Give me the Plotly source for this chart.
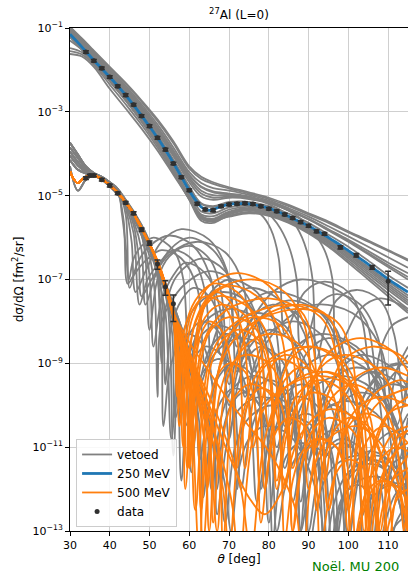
import plotly.graph_objects as go

# ---------------- measured data (log10 of dσ/dΩ) ----------------
data_250_theta = [34, 36, 38, 40, 42, 44, 46, 48, 50, 52, 54, 56, 58, 60, 62, 64, 66, 68, 70, 72,
                  74, 76, 78, 80, 82, 84, 86, 88, 90, 92, 94, 98, 102, 106, 110]
data_250_log = [-1.57, -1.78, -1.96, -2.17, -2.39, -2.60, -2.83, -3.10, -3.34, -3.62, -3.90, -4.23,
                -4.56, -4.87, -5.19, -5.33, -5.35, -5.25, -5.21, -5.19, -5.18, -5.20, -5.25, -5.31,
                -5.37, -5.45, -5.53, -5.63, -5.72, -5.85, -5.91, -6.23, -6.42, -6.71, -7.04]
data_250_relerr = [0.07, 0.07, 0.07, 0.07, 0.07, 0.07, 0.07, 0.07, 0.07, 0.07, 0.07, 0.07, 0.07,
                   0.07, 0.07, 0.07, 0.07, 0.07, 0.07, 0.07, 0.07, 0.07, 0.07, 0.07, 0.07, 0.07,
                   0.07, 0.07, 0.07, 0.08, 0.08, 0.09, 0.09, 0.1, 0.73]

data_500_theta = [34, 35, 36, 38, 40, 42, 44, 46, 48, 50, 52, 54, 56]
data_500_log = [-4.58, -4.52, -4.52, -4.62, -4.76, -4.94, -5.17, -5.42, -5.81, -6.13, -6.63, -7.17, -7.58]
data_500_relerr = [0.07, 0.07, 0.07, 0.07, 0.07, 0.07, 0.07, 0.08, 0.1, 0.12, 0.25, 0.38, 0.62]

# ---------------- accepted 250 MeV model ----------------
model_250_theta = [30, 32, 34, 36, 38, 40, 42, 44, 46, 48, 50, 52, 54, 56, 58, 60, 62, 63, 64, 65, 66,
                   68, 70, 72, 74, 76, 78, 80, 82, 84, 86, 88, 90, 92, 94, 96, 98, 100, 102, 104, 106,
                   108, 110, 112, 115]
model_250_log = [-1.15, -1.35, -1.56, -1.77, -1.97, -2.17, -2.38, -2.60, -2.84, -3.09, -3.35, -3.62,
                 -3.91, -4.22, -4.55, -4.88, -5.16, -5.27, -5.33, -5.35, -5.33, -5.26, -5.21, -5.19,
                 -5.19, -5.21, -5.25, -5.30, -5.37, -5.45, -5.54, -5.63, -5.72, -5.83, -5.94, -6.06,
                 -6.18, -6.31, -6.44, -6.57, -6.71, -6.85, -6.99, -7.12, -7.30]

# ---------------- vetoed 250 MeV curves ----------------
vetoed_250_grid = [30, 33, 36, 40, 44, 48, 52, 56, 60, 63, 66, 70, 75, 80, 85, 90, 95, 100, 105, 110, 115]
vetoed_250_band = [
    [-0.97, -1.25, -1.54, -1.93, -2.31, -2.73, -3.18, -3.70, -4.30, -4.55, -4.68, -4.80, -4.92, -5.05, -5.22, -5.42, -5.62, -5.85, -6.07, -6.30, -6.52],
    [-1.00, -1.28, -1.57, -1.95, -2.33, -2.76, -3.22, -3.75, -4.35, -4.60, -4.72, -4.83, -4.95, -5.08, -5.25, -5.45, -5.65, -5.88, -6.10, -6.32, -6.55],
    [-1.02, -1.31, -1.60, -1.99, -2.38, -2.82, -3.30, -3.85, -4.44, -4.70, -4.82, -4.88, -4.98, -5.12, -5.30, -5.50, -5.73, -5.97, -6.22, -6.47, -6.72],
    [-1.03, -1.33, -1.63, -2.02, -2.42, -2.87, -3.36, -3.92, -4.50, -4.78, -4.90, -4.95, -5.02, -5.15, -5.33, -5.55, -5.80, -6.05, -6.32, -6.60, -6.85],
    [-1.05, -1.36, -1.66, -2.05, -2.46, -2.92, -3.42, -3.98, -4.57, -4.88, -4.99, -4.99, -5.04, -5.16, -5.35, -5.56, -5.82, -6.08, -6.37, -6.66, -6.94],
    [-1.06, -1.38, -1.68, -2.07, -2.48, -2.95, -3.45, -4.02, -4.62, -4.95, -5.05, -5.02, -5.05, -5.16, -5.35, -5.57, -5.83, -6.10, -6.40, -6.70, -7.00],
    [-1.10, -1.42, -1.73, -2.12, -2.55, -3.03, -3.55, -4.14, -4.78, -5.18, -5.25, -5.15, -5.15, -5.25, -5.43, -5.65, -5.93, -6.22, -6.55, -6.90, -7.20],
    [-1.13, -1.44, -1.76, -2.16, -2.60, -3.10, -3.64, -4.25, -4.92, -5.38, -5.42, -5.28, -5.24, -5.33, -5.52, -5.75, -6.04, -6.36, -6.70, -7.05, -7.38],
    [-1.17, -1.47, -1.79, -2.20, -2.65, -3.15, -3.70, -4.32, -4.99, -5.45, -5.49, -5.33, -5.27, -5.35, -5.54, -5.78, -6.07, -6.39, -6.74, -7.10, -7.44],
    [-1.20, -1.50, -1.82, -2.24, -2.70, -3.20, -3.75, -4.38, -5.05, -5.50, -5.55, -5.38, -5.30, -5.38, -5.56, -5.80, -6.10, -6.42, -6.78, -7.15, -7.50],
    [-1.30, -1.52, -1.83, -2.26, -2.72, -3.22, -3.77, -4.40, -5.07, -5.55, -5.60, -5.42, -5.33, -5.40, -5.58, -5.83, -6.13, -6.46, -6.83, -7.20, -7.55],
    [-1.48, -1.58, -1.84, -2.27, -2.73, -3.23, -3.78, -4.42, -5.10, -5.60, -5.65, -5.45, -5.35, -5.42, -5.60, -5.85, -6.15, -6.50, -6.88, -7.25, -7.60],
    [-1.55, -1.63, -1.88, -2.35, -2.82, -3.31, -3.85, -4.46, -5.09, -5.54, -5.62, -5.48, -5.39, -5.45, -5.63, -5.88, -6.19, -6.55, -6.94, -7.33, -7.70],
    [-1.62, -1.68, -1.93, -2.45, -2.92, -3.40, -3.92, -4.50, -5.08, -5.48, -5.58, -5.50, -5.42, -5.48, -5.65, -5.90, -6.22, -6.60, -7.00, -7.40, -7.80],
]
vetoed_250_extra_theta = [
    [30, 33, 36, 40, 44, 48, 52, 56, 60, 63, 66, 70, 75, 80, 84, 87, 89.5, 91, 92, 94, 97, 102, 108, 111.5, 114, 115],
    [30, 33, 36, 40, 44, 48, 52, 56, 60, 63, 66, 70, 75, 79, 82, 85, 87, 88, 90, 92.5, 97, 103, 107.5, 110, 112, 115],
    [30, 33, 36, 40, 44, 48, 52, 56, 60, 63, 66, 70, 75, 80, 85, 88, 91, 94, 96, 97, 99.5, 103, 108, 113, 115],
    [30, 33, 36, 40, 44, 48, 52, 56, 60, 63, 66, 70, 75, 78, 80.5, 82.5, 84, 86, 89, 94, 100, 103.5, 106, 108, 111, 115],
]
vetoed_250_extra_log = [
    [-1.08, -1.40, -1.70, -2.09, -2.51, -2.98, -3.49, -4.06, -4.68, -5.02, -5.10, -5.05, -5.08, -5.20, -5.42, -5.75, -6.3, -7.0, -8.9, -8.2, -7.5, -7.25, -7.5, -8.3, -10.0, -9.2],
    [-1.11, -1.43, -1.74, -2.14, -2.57, -3.05, -3.57, -4.16, -4.80, -5.20, -5.27, -5.17, -5.16, -5.35, -5.65, -6.2, -7.0, -8.6, -8.3, -7.6, -7.35, -7.6, -8.4, -10.2, -9.2, -8.6],
    [-1.03, -1.34, -1.64, -2.03, -2.44, -2.89, -3.38, -3.94, -4.52, -4.80, -4.92, -4.97, -5.04, -5.17, -5.36, -5.55, -5.85, -6.3, -7.0, -8.8, -8.3, -7.7, -7.45, -7.6, -7.75],
    [-1.22, -1.52, -1.84, -2.27, -2.73, -3.23, -3.78, -4.40, -5.07, -5.52, -5.57, -5.40, -5.32, -5.45, -5.8, -6.5, -8.3, -7.9, -7.3, -7.05, -7.3, -8.0, -9.8, -8.7, -8.1, -7.9],
]

# ---------------- vetoed 500 MeV curves ----------------
vetoed_500_head_theta = [30, 32, 34, 36, 38, 40, 42]
vetoed_500_heads = [
    [-3.74, -4.02, -4.30, -4.46, -4.55, -4.68, -4.84],
    [-3.85, -4.10, -4.35, -4.48, -4.57, -4.70, -4.86],
    [-3.95, -4.20, -4.40, -4.50, -4.58, -4.72, -4.90],
    [-4.05, -4.28, -4.43, -4.50, -4.60, -4.75, -4.93],
    [-4.15, -4.38, -4.47, -4.52, -4.62, -4.78, -4.97],
    [-4.30, -4.88, -4.62, -4.53, -4.60, -4.74, -4.92],
]
vetoed_500_head_index = [0, 1, 2, 3, 4, 5, 1, 2, 3, 4, 0, 2, 1, 3, 0, 5, 0, 2, 3, 1, 4, 0, 5, 3, 2, 4, 1]
vetoed_500_tail_theta = [
    [44, 45.5, 46.5, 49, 53, 58, 65, 69.5, 72, 75.5, 81, 88, 98, 104.5, 108, 111, 115],
    [44, 45, 47, 50, 55, 61, 65.5, 68, 71, 75, 80, 89, 97, 102, 105, 110, 115],
    [44, 46, 47.3, 48, 50.5, 55, 62, 69, 73.5, 76, 79.5, 85, 92, 101, 108, 112, 115],
    [43.5, 44.5, 46, 49, 53, 58, 62, 64, 67, 70.5, 75, 83, 89, 92, 95, 98.5, 103, 111, 115],
    [44, 46, 48, 50, 51.3, 52, 52.8, 55, 59, 65, 72, 77, 80, 83, 87, 93, 102, 108, 112, 115],
    [44, 46, 48, 50, 52, 54, 55.5, 58, 62, 68, 74, 79, 82, 85, 89, 95, 104, 110, 113, 115],
    [44, 46, 48, 50, 52, 54, 56, 57.5, 60, 64, 70, 77, 81.5, 84, 87, 91, 98, 106, 112, 115],
    [44, 48, 52, 56, 57, 58, 60, 62.5, 67, 72, 75.5, 78, 80.5, 83.5, 88, 94, 97.5, 100, 103, 107, 112, 115],
    [44, 46, 48, 50, 52, 54, 56, 58, 59.5, 60.5, 63, 67, 73, 80, 83.5, 86, 89, 93, 99, 107, 112, 115],
    [44, 48, 52, 56, 59, 61.5, 62.6, 65, 67.5, 71, 75, 78, 80, 82, 85, 89, 93, 96, 98, 100, 103, 107, 112, 115],
    [44, 48, 52, 56, 60, 63, 64.7, 65.5, 68, 71, 76, 82, 86, 88, 90.5, 94, 98, 104, 108, 110, 112, 115],
    [44, 48, 52, 56, 60, 63.5, 66, 67, 69.5, 72.5, 78, 84, 88, 90, 92.5, 96, 102, 109, 113, 115],
    [44, 46, 48, 49, 50, 52, 55, 60, 65, 68, 70, 72.5, 76, 81, 88, 92.5, 95, 97.5, 101, 106, 113, 115],
    [44, 48, 50, 52, 53, 54, 57, 63, 69, 72, 74, 76.5, 80, 86, 93, 97.5, 100, 102.5, 106, 111, 115],
    [43, 44, 44.8, 46, 48, 51, 56, 58.5, 60, 62.5, 65.5, 70, 77, 81.5, 84, 86.5, 90, 95, 102, 107, 110, 112.5, 115],
    [44, 48, 52, 54, 55.7, 56.5, 58.5, 61, 64, 68, 71, 73, 75, 77.5, 81, 85, 88, 90, 92, 94.5, 98, 102, 105, 107, 109, 112, 115],
    [44, 48, 52, 55, 57.5, 59, 61, 63.5, 67, 72, 75, 77, 79, 81.5, 86, 91, 94, 96, 98, 100.5, 105, 110, 113, 115],
    [44, 46, 47.5, 49.5, 52.5, 56, 61, 64, 66, 68.5, 71.5, 77, 84, 88, 90, 92.5, 96, 102, 109, 113, 115],
    [44, 46, 48, 49, 51.5, 55, 60, 66, 70, 72, 75, 79, 85, 93, 97.5, 100, 103, 107, 112, 115],
    [44, 48, 52, 53.3, 54, 55.5, 58, 61, 65, 68, 70, 72, 74.5, 78, 83, 86, 88, 90, 92.5, 96, 101, 104, 106, 108, 111, 115],
    [44, 48, 52, 56, 60, 62.5, 63.5, 65.5, 68, 71, 76, 80, 82, 84, 86.5, 90, 95, 98, 100, 102.5, 106, 111, 115],
    [44, 48, 52, 56, 60, 64, 67, 69, 71.5, 75, 81, 88, 92, 94, 96.5, 100, 106, 112, 115],
    [44, 46, 48, 50, 51, 53, 56, 59, 64, 67.5, 70, 72.5, 76, 80, 86, 90.5, 93, 95.5, 99, 103, 109, 113, 115],
    [44, 48, 52, 56, 59, 60.3, 61, 63, 65.5, 69, 74, 77, 79, 81, 83.5, 87, 92, 95, 97, 99, 101.5, 105, 110, 113, 115],
    [44, 48, 51, 52.8, 53.5, 55, 57, 59.5, 63, 65.5, 67, 68.5, 70.5, 73.5, 77, 79.5, 81, 82.5, 84.5, 88, 91.5, 93.5, 95, 96.5, 98.5, 102, 105.5, 107.5, 109, 111, 115],
    [44, 48, 52, 54.5, 56, 57.5, 60, 63, 67, 70, 72, 73.5, 76, 80, 84, 86.5, 88, 89.5, 92, 96, 100, 102.5, 104, 106, 109, 115],
    [44, 48, 52, 56, 60, 64, 67, 69, 70.5, 72.5, 75, 79, 85, 90, 93, 95, 97.5, 101, 107, 113, 115],
]
vetoed_500_tail_log = [
    [-5.3, -6.1, -7.3, -6.8, -6.1, -5.8, -6.05, -6.8, -8.6, -8.0, -7.3, -7.0, -7.3, -8.0, -9.6, -9.3, -8.8],
    [-5.45, -7.2, -6.6, -6.2, -5.95, -6.2, -7.0, -8.8, -8.3, -7.6, -7.3, -7.5, -8.2, -10.0, -9.6, -9.1, -9.0],
    [-5.2, -5.7, -6.5, -7.4, -7.0, -6.4, -6.1, -6.35, -7.1, -9.2, -8.5, -7.9, -7.6, -7.8, -8.6, -10.5, -9.3],
    [-5.6, -7.1, -6.9, -6.55, -6.3, -6.5, -7.2, -9.0, -8.2, -7.5, -7.2, -7.5, -8.3, -10.2, -9.7, -9.1, -8.8, -9.1, -9.6],
    [-5.2, -5.55, -5.95, -6.45, -7.3, -9.8, -8.1, -7.6, -7.1, -6.8, -7.1, -7.9, -10.5, -9.3, -8.6, -8.3, -8.6, -9.4, -11.5, -10.3],
    [-5.2, -5.5, -5.85, -6.3, -6.9, -7.8, -10.8, -8.4, -7.6, -7.3, -7.5, -8.4, -11.0, -9.8, -9.1, -8.8, -9.1, -9.9, -12.0, -11.0],
    [-5.15, -5.45, -5.8, -6.2, -6.65, -7.2, -8.1, -10.1, -8.8, -8.0, -7.7, -7.95, -8.8, -11.5, -10.3, -9.6, -9.3, -9.6, -10.5, -12.5],
    [-5.15, -5.8, -6.7, -8.0, -8.8, -11.8, -9.2, -8.4, -8.1, -8.3, -9.1, -12.0, -10.5, -9.8, -9.5, -9.8, -10.6, -13.2, -11.6, -10.9, -10.6, -10.7],
    [-5.2, -5.5, -5.9, -6.3, -6.8, -7.35, -7.95, -8.7, -9.6, -11.6, -9.5, -8.7, -8.4, -8.7, -9.5, -12.3, -10.9, -10.2, -9.9, -10.2, -11.0, -13.0],
    [-5.25, -5.85, -6.7, -7.7, -8.6, -9.6, -11.3, -10.0, -9.3, -9.0, -9.2, -10.0, -12.8, -11.2, -10.5, -10.2, -10.4, -11.2, -13.5, -12.3, -11.5, -11.2, -11.5, -12.5],
    [-5.1, -5.75, -6.75, -7.9, -9.0, -9.9, -10.8, -12.0, -10.3, -9.6, -9.3, -9.55, -10.4, -13.0, -11.8, -11.1, -10.8, -11.1, -11.9, -13.5, -12.8, -12.3],
    [-5.15, -5.75, -6.6, -7.6, -8.7, -9.8, -11.0, -12.6, -10.9, -10.1, -9.8, -10.05, -11.0, -13.5, -12.2, -11.5, -11.2, -11.5, -12.4, -14.0],
    [-5.15, -5.45, -5.9, -6.5, -8.2, -7.0, -6.45, -6.2, -6.5, -7.3, -9.5, -8.6, -7.9, -7.6, -7.9, -8.7, -11.0, -10.2, -9.5, -9.2, -9.5, -9.8],
    [-5.1, -5.7, -6.1, -6.9, -9.0, -7.7, -6.9, -6.5, -6.8, -7.6, -9.8, -9.0, -8.3, -8.0, -8.3, -9.1, -11.5, -10.4, -9.7, -9.5, -9.6],
    [-5.4, -6.2, -7.0, -6.5, -6.2, -6.0, -6.3, -7.0, -9.0, -8.0, -7.3, -7.0, -7.3, -8.1, -10.5, -9.4, -8.7, -8.4, -8.7, -9.5, -11.8, -10.7, -10.2],
    [-5.2, -5.85, -6.75, -7.3, -8.3, -10.3, -9.5, -8.9, -8.6, -8.8, -9.6, -12.0, -10.8, -10.1, -9.8, -10.0, -10.8, -13.0, -11.9, -11.2, -10.9, -11.1, -11.9, -14.0, -12.9, -12.1, -11.9],
    [-5.15, -5.8, -6.7, -7.55, -8.6, -10.5, -9.9, -9.2, -8.9, -9.1, -9.9, -12.3, -11.3, -10.6, -10.3, -10.5, -11.3, -13.5, -12.4, -11.7, -11.4, -11.6, -12.4, -14.0],
    [-5.25, -5.9, -7.6, -7.0, -6.6, -6.3, -6.55, -7.3, -9.5, -8.8, -8.1, -7.8, -8.1, -8.9, -11.3, -10.1, -9.4, -9.1, -9.4, -10.2, -12.5],
    [-5.2, -5.6, -6.3, -7.6, -6.9, -6.3, -6.0, -6.3, -7.0, -9.2, -8.4, -7.8, -7.5, -7.8, -8.6, -11.0, -10.0, -9.3, -9.0, -9.1],
    [-5.15, -5.75, -6.75, -7.6, -9.5, -8.1, -7.5, -7.2, -7.4, -8.2, -10.8, -9.6, -8.9, -8.6, -8.9, -9.7, -12.3, -11.0, -10.3, -10.0, -10.3, -11.1, -13.5, -12.0, -11.4, -11.2],
    [-5.25, -5.85, -6.75, -7.8, -9.1, -10.4, -12.2, -10.6, -9.9, -9.6, -9.8, -10.6, -13.0, -12.0, -11.3, -11.0, -11.2, -12.0, -14.0, -12.9, -12.2, -11.9, -12.1],
    [-5.1, -5.7, -6.6, -7.6, -8.7, -9.9, -11.1, -12.8, -11.0, -10.3, -10.0, -10.3, -11.1, -13.5, -12.3, -11.6, -11.3, -11.6, -12.2],
    [-5.2, -5.5, -5.95, -6.9, -8.6, -7.5, -6.9, -6.6, -6.85, -7.6, -10.0, -9.1, -8.5, -8.2, -8.5, -9.3, -11.8, -10.6, -9.9, -9.7, -9.9, -10.7, -12.8],
    [-5.2, -5.8, -6.7, -7.75, -8.9, -9.8, -11.0, -9.3, -8.6, -8.3, -8.5, -9.3, -12.0, -10.8, -10.1, -9.8, -10.0, -10.8, -13.2, -12.1, -11.4, -11.1, -11.3, -12.1, -14.0],
    [-5.15, -5.8, -6.5, -7.6, -10.5, -9.2, -8.6, -8.3, -8.5, -9.3, -12.0, -10.6, -10.0, -9.7, -9.9, -10.7, -13.2, -11.9, -11.2, -10.9, -11.1, -11.9, -14.0, -12.9, -12.2, -11.9, -12.1, -12.9, -14.5, -13.0, -12.6],
    [-5.2, -5.85, -6.75, -7.6, -11.2, -9.0, -8.3, -8.0, -8.2, -9.0, -12.0, -10.4, -9.7, -9.4, -9.6, -10.4, -13.0, -11.6, -10.9, -10.6, -10.8, -11.6, -14.0, -12.6, -11.9, -11.9],
    [-5.15, -5.8, -6.7, -7.7, -8.8, -10.0, -11.0, -11.9, -13.0, -11.5, -10.8, -10.5, -10.7, -11.5, -12.5, -14.0, -12.6, -11.9, -11.7, -12.0, -12.4],
]

# ---------------- accepted 500 MeV curves ----------------
model_500_head_theta = [30, 31, 32, 33, 34, 36, 38, 40, 42, 44, 46, 48, 50]
model_500_head_log = [-4.42, -4.62, -4.70, -4.62, -4.55, -4.52, -4.60, -4.75, -4.93, -5.16, -5.43, -5.78, -6.15]
model_500_tail_theta = [
    [52, 54, 56, 57, 57.5, 60.5, 65, 72, 80, 85, 88, 91, 95.5, 103, 111, 115],
    [52, 54, 56, 57.5, 58.5, 61, 65, 70, 77, 83, 86, 89, 93, 99, 107, 112, 115],
    [52, 54, 56, 58, 59.3, 60, 63.5, 69, 80, 88, 91, 94, 97, 101, 108, 115],
    [52, 54, 56, 58, 59, 61.5, 63.5, 67, 74, 80, 84, 86.5, 89.5, 94, 101, 105.5, 108, 110.5, 114, 115],
    [52, 54, 56, 58, 60, 61.5, 65.5, 72, 85, 93, 97, 100, 103, 108, 115],
    [52, 54, 56, 58, 60, 62, 63.5, 68, 75, 88, 97, 101, 104, 107, 111, 115],
    [52, 54, 56, 58, 62, 66, 70, 73, 75.5, 79, 84, 93, 100, 103, 105, 108, 112, 115],
    [52, 54, 56, 60, 65, 70, 75, 79, 83, 88, 95, 103, 109, 112, 115],
    [52, 54, 56, 57, 58.5, 61.5, 66, 72, 77, 80, 82.5, 85.5, 90, 97, 101.5, 104, 106.5, 110, 115],
    [52, 54, 56, 58, 61, 64, 65.3, 66, 69.5, 74, 80, 87, 92, 95, 98, 102, 108, 115],
    [52, 54, 56, 59, 62, 65, 67.5, 68.5, 72, 77, 88, 95, 98, 100.5, 103, 107, 113, 115],
    [52, 54, 56, 59, 62, 63.7, 64.5, 67.5, 71, 76, 83, 87.5, 90, 92.5, 96, 101, 107, 111.5, 114, 115],
    [52, 54, 56, 58, 59.8, 60.5, 62.3, 64, 66.5, 70, 73.5, 76, 78.5, 80.5, 84, 89, 92.5, 95, 97.5, 100, 104, 109, 112.5, 115],
    [52, 54, 56, 58, 60, 62.5, 65, 68, 72, 77, 80, 82, 84.5, 87, 91, 96.5, 100, 102, 104.5, 108, 112, 115],
    [52, 54, 56, 57.3, 58, 61.5, 66, 76, 84, 89, 92, 95, 99, 106, 113, 115],
    [52, 54, 56, 58, 60, 61, 63, 65.5, 70, 76, 80, 82, 84.5, 87.5, 93, 99, 103, 105, 107.5, 111, 115],
    [52, 54, 56, 59, 63, 66, 68.5, 70, 73.5, 79, 90, 98, 103, 106, 109, 112, 115],
    [52, 54, 56, 60, 64, 68, 71, 72.5, 76, 81, 92, 101, 105, 108, 111, 115],
    [52, 54, 56, 58, 59.5, 61.5, 64, 68, 74, 77, 79, 81.5, 84, 88, 94, 97.5, 100, 102.5, 105, 109, 115],
    [52, 54, 56, 57, 59, 61, 64, 68.5, 72, 74, 76, 78, 82, 87.5, 90.5, 92, 94, 96.5, 100, 105, 108.5, 110, 112, 115],
    [52, 54, 56, 59, 62, 64, 65, 67.5, 70, 74, 80, 84, 86, 88.5, 91, 95, 101, 104, 106, 108.5, 111, 115],
    [52, 54, 56, 58, 60, 62, 63, 65, 67, 70, 74, 76.5, 78, 80, 82, 85, 89, 91.5, 93, 95, 97, 100, 104, 106.5, 108, 110, 112.5, 115],
    [52, 54, 56, 59, 62, 65, 67, 69, 71.5, 75, 80, 82.5, 84, 86, 88.5, 92, 97, 99.5, 101, 103, 105.5, 109, 114, 115],
    [52, 54, 56, 58, 59.3, 60, 61.5, 63, 65, 68, 70.5, 72, 73.5, 75, 78, 82, 84.5, 86, 87.5, 89.5, 93, 97, 99.5, 101, 102.5, 104.5, 108, 112, 114.5, 115],
    [52, 54, 56, 60, 65, 70, 75, 80, 84, 87, 88.5, 91, 95, 102, 108, 112, 115],
]
model_500_tail_log = [
    [-6.58, -7.12, -7.75, -8.8, -10.5, -8.0, -7.15, -6.85, -7.15, -8.0, -10.8, -9.5, -8.7, -8.4, -8.7, -9.2],
    [-6.6, -7.15, -7.85, -8.8, -11.0, -8.2, -7.45, -7.15, -7.4, -8.3, -11.5, -9.9, -9.1, -8.8, -9.1, -9.9, -12.0],
    [-6.62, -7.2, -7.9, -8.7, -9.6, -11.5, -8.5, -7.75, -7.45, -7.75, -8.5, -11.8, -10.1, -9.4, -9.1, -9.3],
    [-6.6, -7.15, -7.8, -8.7, -12.0, -8.5, -7.7, -7.4, -7.6, -8.4, -12.0, -10.2, -9.5, -9.2, -9.5, -10.3, -13.0, -11.5, -10.7, -10.6],
    [-6.62, -7.18, -7.85, -8.6, -9.6, -12.5, -8.8, -8.0, -7.6, -7.9, -8.8, -12.5, -10.7, -9.9, -9.6],
    [-6.6, -7.2, -7.85, -8.5, -9.3, -10.4, -13.2, -9.0, -8.1, -7.7, -8.0, -8.9, -13.0, -10.9, -10.1, -9.8],
    [-6.6, -7.15, -7.8, -8.4, -9.2, -10.0, -11.0, -12.0, -13.5, -10.8, -9.6, -9.2, -9.5, -10.3, -13.5, -11.8, -11.1, -10.9],
    [-6.6, -7.15, -7.8, -8.9, -10.0, -11.2, -12.2, -12.6, -12.1, -10.7, -10.1, -10.4, -11.4, -13.5, -12.5],
    [-6.55, -7.1, -7.9, -9.5, -8.3, -7.5, -7.1, -7.3, -8.1, -10.5, -9.6, -8.9, -8.6, -8.9, -9.7, -12.0, -10.9, -10.2, -10.0],
    [-6.62, -7.2, -7.9, -8.5, -9.2, -10.1, -11.0, -12.8, -9.4, -8.6, -8.3, -8.5, -9.3, -12.5, -10.9, -10.1, -9.8, -10.0],
    [-6.6, -7.15, -7.8, -8.5, -9.2, -10.1, -11.2, -13.3, -9.0, -8.0, -7.6, -7.9, -8.7, -12.0, -10.4, -9.7, -9.4, -9.45],
    [-6.6, -7.15, -7.8, -8.6, -9.6, -10.8, -12.0, -9.1, -8.2, -7.9, -8.1, -9.0, -12.0, -10.6, -9.8, -9.5, -9.8, -10.6, -13.0, -12.0],
    [-6.58, -7.1, -7.75, -8.4, -9.3, -10.8, -8.3, -7.6, -7.3, -7.5, -8.3, -11.0, -9.8, -9.1, -8.8, -9.0, -9.8, -12.5, -11.2, -10.5, -10.2, -10.4, -11.2, -13.0],
    [-6.62, -7.2, -7.85, -8.5, -9.3, -13.5, -9.2, -8.5, -8.2, -8.4, -9.2, -12.0, -10.7, -10.0, -9.7, -9.9, -10.7, -13.5, -12.0, -11.3, -11.0, -11.1],
    [-6.57, -7.1, -7.8, -8.9, -10.2, -8.0, -7.3, -7.0, -7.3, -8.1, -11.0, -9.7, -8.9, -8.6, -8.8, -9.0],
    [-6.62, -7.2, -7.88, -8.6, -9.6, -11.0, -8.9, -8.2, -7.9, -8.1, -8.9, -11.8, -10.4, -9.7, -9.4, -9.7, -10.5, -13.0, -11.4, -10.7, -10.5],
    [-6.6, -7.15, -7.8, -8.7, -9.9, -10.9, -12.0, -13.5, -10.2, -9.0, -8.6, -8.9, -9.8, -13.5, -11.6, -10.8, -10.6],
    [-6.62, -7.18, -7.85, -8.9, -10.0, -11.2, -12.5, -14.0, -10.8, -9.8, -9.3, -9.6, -10.5, -13.5, -11.8, -11.2],
    [-6.6, -7.15, -7.8, -8.7, -11.5, -8.6, -7.9, -7.6, -7.85, -8.6, -12.0, -10.1, -9.4, -9.1, -9.4, -10.2, -13.0, -11.5, -10.8, -10.5, -10.9],
    [-6.55, -7.1, -7.85, -9.8, -8.4, -7.7, -7.4, -7.6, -8.4, -11.5, -9.9, -9.2, -8.9, -9.1, -9.9, -12.5, -11.3, -10.6, -10.3, -10.5, -11.3, -13.5, -12.2, -11.6],
    [-6.6, -7.15, -7.85, -8.7, -9.8, -11.0, -13.0, -9.8, -9.1, -8.8, -9.0, -9.8, -13.0, -11.3, -10.6, -10.3, -10.6, -11.4, -14.0, -12.5, -11.8, -11.5],
    [-6.6, -7.15, -7.85, -8.6, -9.5, -10.6, -12.5, -10.0, -9.3, -9.0, -9.2, -10.0, -12.8, -11.3, -10.6, -10.3, -10.5, -11.3, -13.5, -12.3, -11.6, -11.3, -11.5, -12.3, -14.0, -12.9, -12.2, -12.0],
    [-6.6, -7.15, -7.8, -8.7, -9.7, -10.9, -13.0, -10.5, -9.8, -9.5, -9.7, -10.5, -13.2, -11.8, -11.1, -10.8, -11.0, -11.8, -14.0, -12.8, -12.1, -11.8, -12.1, -12.4],
    [-6.6, -7.15, -7.85, -8.6, -9.4, -11.5, -9.0, -8.3, -8.0, -8.2, -9.0, -11.5, -10.6, -9.9, -9.6, -9.8, -10.6, -13.0, -11.8, -11.1, -10.8, -11.0, -11.8, -14.0, -12.8, -12.1, -11.8, -12.0, -12.8, -13.5],
    [-6.6, -7.15, -7.8, -8.5, -9.2, -9.9, -10.5, -11.1, -11.8, -12.6, -14.0, -11.6, -10.8, -10.5, -10.9, -11.7, -13.0],
]

y_tick_exponents = [-1, -3, -5, -7, -9, -11, -13]
x_tick_values = [30, 40, 50, 60, 70, 80, 90, 100, 110]

# ---------------- figure ----------------
GRAY = "#808080"
BLUE = "#1f77b4"
ORANGE = "#ff7f0e"
DATA_C = "#303030"
FONT = "DejaVu Sans"


def pw(vals):
    return [10.0 ** v for v in vals]


fig = go.Figure()

vetoed_curves = []
for logs in vetoed_250_band:
    vetoed_curves.append((vetoed_250_grid, logs))
for th, lg in zip(vetoed_250_extra_theta, vetoed_250_extra_log):
    vetoed_curves.append((th, lg))
for hi, th, lg in zip(vetoed_500_head_index, vetoed_500_tail_theta, vetoed_500_tail_log):
    vetoed_curves.append((vetoed_500_head_theta + th, vetoed_500_heads[hi] + lg))

for i, (th, lg) in enumerate(vetoed_curves):
    fig.add_trace(go.Scatter(
        x=th, y=pw(lg), mode="lines",
        line=dict(color=GRAY, width=1.8, shape="spline", smoothing=1.0),
        name="vetoed", legendgroup="vetoed", showlegend=(i == 0), hoverinfo="skip"))

fig.add_trace(go.Scatter(
    x=model_250_theta, y=pw(model_250_log), mode="lines",
    line=dict(color=BLUE, width=2.8, shape="spline", smoothing=0.8),
    name="250 MeV", legendgroup="250", hoverinfo="skip"))

for i, (th, lg) in enumerate(zip(model_500_tail_theta, model_500_tail_log)):
    fig.add_trace(go.Scatter(
        x=model_500_head_theta + th, y=pw(model_500_head_log + lg), mode="lines",
        line=dict(color=ORANGE, width=1.8, shape="spline", smoothing=1.0),
        name="500 MeV", legendgroup="500", showlegend=(i == 0), hoverinfo="skip"))

for k, (th, lg, er) in enumerate([(data_250_theta, data_250_log, data_250_relerr),
                                   (data_500_theta, data_500_log, data_500_relerr)]):
    yv = pw(lg)
    fig.add_trace(go.Scatter(
        x=th, y=yv, mode="markers",
        marker=dict(color=DATA_C, size=5),
        error_y=dict(type="data", array=[y * e for y, e in zip(yv, er)],
                     color=DATA_C, thickness=1.5, width=3),
        name="data", legendgroup="data", showlegend=(k == 0), hoverinfo="skip"))

fig.update_layout(
    width=408, height=571,
    margin=dict(l=70, r=0, t=28, b=40),
    paper_bgcolor="white", plot_bgcolor="white",
    font=dict(family=FONT, size=12, color="black"),
    title=dict(text="<sup>27</sup>Al (L=0)", x=0.5, xref="paper", y=1 - 15 / 571,
               yanchor="middle", xanchor="center", font=dict(size=12, family=FONT)),
    showlegend=True,
    legend=dict(x=0.018, y=0.008, xanchor="left", yanchor="bottom",
                bgcolor="rgba(255,255,255,0.85)", bordercolor="#cccccc", borderwidth=1,
                font=dict(size=12, family=FONT), itemwidth=30, tracegroupgap=0),
    annotations=[dict(text="Noël, MU 200", xref="paper", yref="paper",
                      x=(310 - 70) / 338, y=(531 - 557) / 503, xanchor="left", yanchor="top",
                      showarrow=False, font=dict(color="green", size=13, family=FONT))],
)

fig.update_xaxes(
    range=[30, 115], tickvals=x_tick_values, ticktext=[str(v) for v in x_tick_values],
    showgrid=True, gridcolor="#cfcfcf", gridwidth=1, zeroline=False,
    showline=True, linecolor="black", linewidth=1, mirror=True,
    ticks="outside", ticklen=4, tickcolor="black", tickfont=dict(size=11),
    title=dict(text="<i>θ</i> [deg]", standoff=0, font=dict(size=12)), automargin=False)

fig.update_yaxes(
    type="log", range=[-13, -1],
    tickvals=[10.0 ** e for e in y_tick_exponents],
    ticktext=["10<sup>−%d</sup>" % (-e) for e in y_tick_exponents],
    showgrid=True, gridcolor="#cfcfcf", gridwidth=1, zeroline=False,
    showline=True, linecolor="black", linewidth=1, mirror=True,
    ticks="outside", ticklen=4, tickcolor="black", tickfont=dict(size=11),
    title=dict(text="dσ/dΩ [fm<sup>2</sup>/sr]", standoff=6, font=dict(size=12)), automargin=False)

fig.write_html("out.html", config={"displayModeBar": False},
               post_script="document.body.style.margin='0';document.body.style.overflow='hidden';")
